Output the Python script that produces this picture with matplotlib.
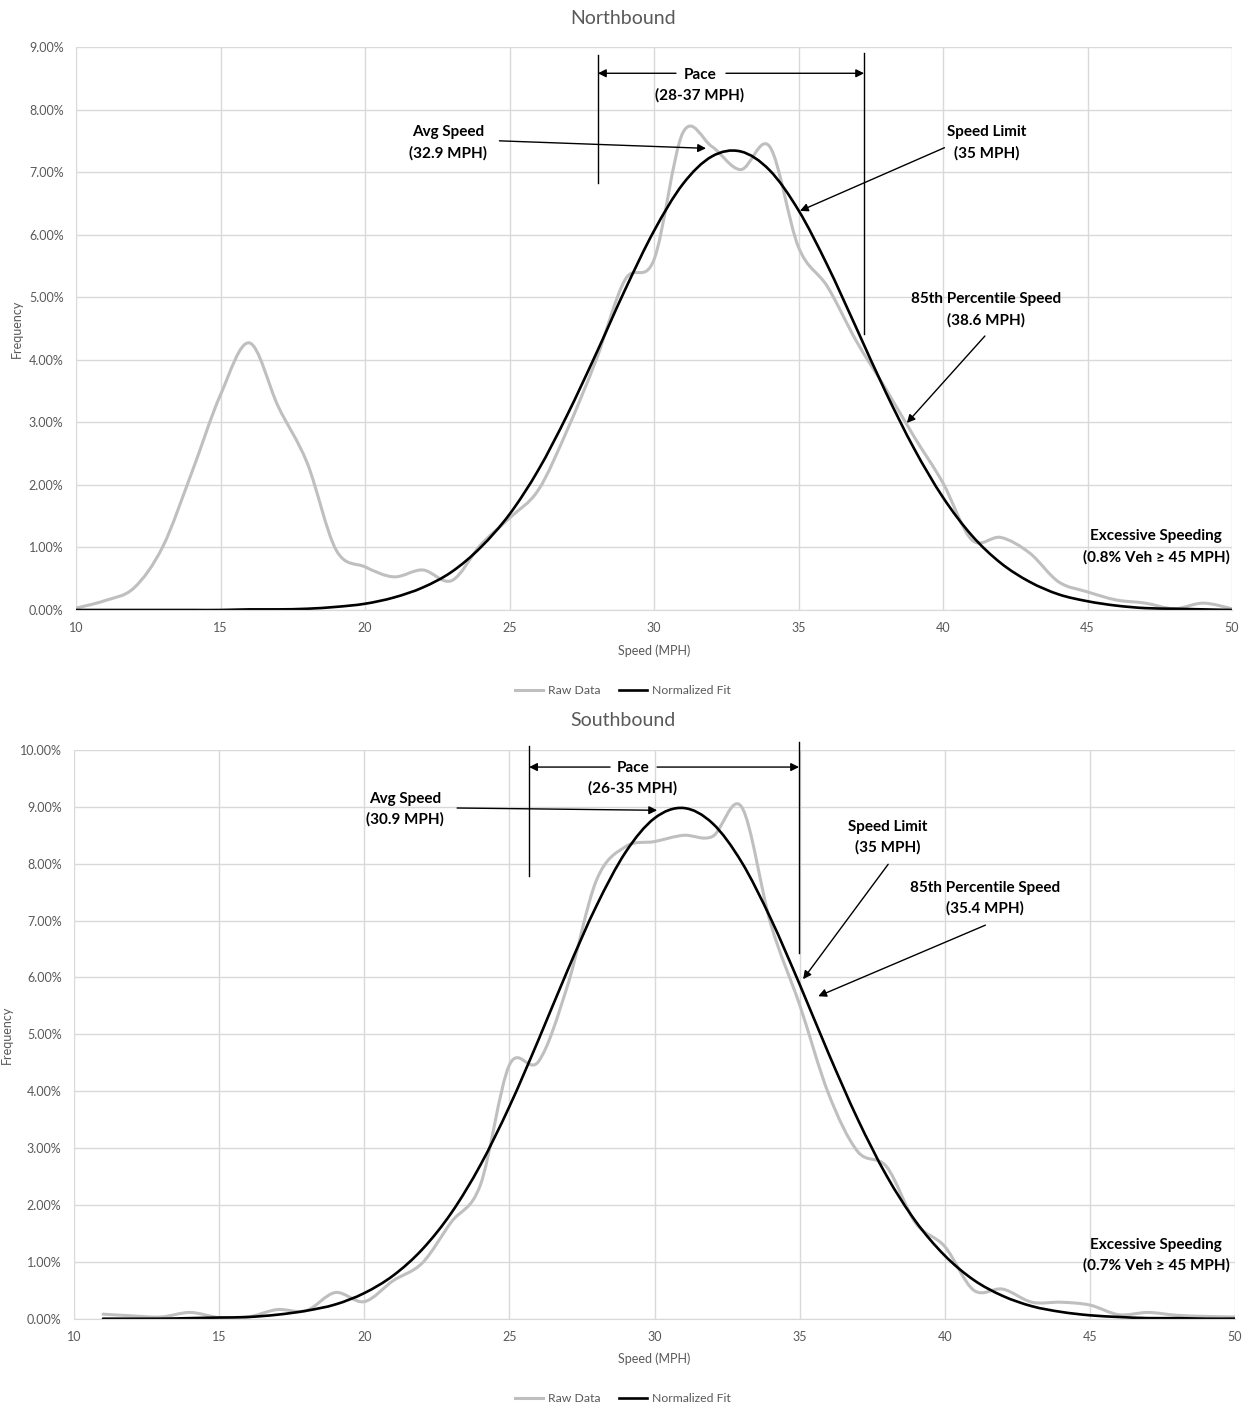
import matplotlib
matplotlib.use("Agg")
import matplotlib.pyplot as plt
from matplotlib.path import Path
from matplotlib.patches import PathPatch
from matplotlib.lines import Line2D
from matplotlib.ticker import FuncFormatter

plt.rcParams['font.family'] = ['Lato', 'DejaVu Sans']

# Northbound data (percent of vehicles per 1 mph bin)
nb_speed = list(range(10, 51))
nb_raw = [0.03, 0.15, 0.35, 1.01, 2.19, 3.44, 4.27, 3.25, 2.35, 0.96,
          0.69, 0.53, 0.64, 0.47, 1.04, 1.47, 1.92, 2.88, 4.00, 5.28,
          5.60, 7.63, 7.41, 7.04, 7.41, 5.80, 5.17, 4.30, 3.55, 2.77,
          2.03, 1.12, 1.16, 0.91, 0.45, 0.29, 0.16, 0.11, 0.02, 0.11, 0.02]
nb_fit = [0.00, 0.00, 0.00, 0.00, 0.00, 0.00, 0.01, 0.01, 0.02, 0.05,
          0.10, 0.20, 0.36, 0.61, 1.00, 1.53, 2.24, 3.12, 4.10, 5.12,
          6.06, 6.81, 7.25, 7.33, 7.03, 6.39, 5.51, 4.51, 3.50, 2.58,
          1.80, 1.19, 0.75, 0.45, 0.25, 0.14, 0.07, 0.03, 0.02, 0.01, 0.00]

# Southbound data
sb_speed = list(range(11, 51))
sb_raw = [0.08, 0.05, 0.03, 0.11, 0.02, 0.03, 0.16, 0.14, 0.46, 0.30,
          0.67, 0.98, 1.70, 2.35, 4.46, 4.52, 5.85, 7.71, 8.30, 8.39,
          8.50, 8.48, 9.00, 6.95, 5.52, 3.95, 2.94, 2.67, 1.68, 1.27,
          0.50, 0.52, 0.29, 0.29, 0.24, 0.07, 0.11, 0.06, 0.04, 0.03]
sb_fit = [0.00, 0.00, 0.00, 0.01, 0.02, 0.03, 0.07, 0.14, 0.25, 0.45,
          0.76, 1.22, 1.86, 2.70, 3.73, 4.90, 6.12, 7.26, 8.20, 8.80,
          8.98, 8.71, 8.03, 7.04, 5.88, 4.66, 3.51, 2.51, 1.71, 1.11,
          0.68, 0.40, 0.22, 0.12, 0.06, 0.03, 0.01, 0.01, 0.00, 0.00]

RAW_COLOR = '#BFBFBF'
GRID_COLOR = '#D9D9D9'
TEXT_GRAY = '#595959'


def smooth_path(x, y):
    """Excel-style smoothed line: cubic Bezier segments through the points."""
    n = len(x)
    verts = [(x[0], y[0])]
    codes = [Path.MOVETO]
    for i in range(n - 1):
        p0 = i - 1 if i > 0 else i
        p3 = i + 2 if i + 2 < n else i + 1
        c1 = (x[i] + (x[i + 1] - x[p0]) / 6, y[i] + (y[i + 1] - y[p0]) / 6)
        c2 = (x[i + 1] - (x[p3] - x[i]) / 6, y[i + 1] - (y[p3] - y[i]) / 6)
        verts += [c1, c2, (x[i + 1], y[i + 1])]
        codes += [Path.CURVE4] * 3
    return Path(verts, codes)


def arrow(ax, start, end):
    ax.annotate('', xy=end, xytext=start,
                arrowprops=dict(arrowstyle='-|>', color='black', lw=1,
                                mutation_scale=12, shrinkA=0, shrinkB=0),
                annotation_clip=False)


def note(ax, x, y, s):
    ax.text(x, y, s, ha='center', va='center', fontsize=11,
            fontweight='bold', color='black', linespacing=1.55)


def setup(ax, ymax, ylab_x):
    ax.set_xlim(10, 50)
    ax.set_ylim(0, ymax)
    ax.set_xticks(range(10, 51, 5))
    ax.set_yticks(range(0, ymax + 1))
    ax.yaxis.set_major_formatter(FuncFormatter(lambda v, p: f'{v:.2f}%'))
    ax.grid(True, color=GRID_COLOR, lw=1)
    ax.set_axisbelow(True)
    for s in ['top', 'right', 'left']:
        ax.spines[s].set_visible(False)
    ax.spines['bottom'].set_color(GRID_COLOR)
    ax.tick_params(length=0, labelsize=9, colors=TEXT_GRAY, pad=9)
    ax.set_xlabel('Speed (MPH)', fontsize=9, color=TEXT_GRAY, labelpad=7)
    ax.set_ylabel('Frequency', fontsize=9, color=TEXT_GRAY, va='center')
    ax.yaxis.set_label_coords(ylab_x, 0.5)


def draw_curves(ax, x, raw, fit):
    ax.add_patch(PathPatch(smooth_path(x, raw), fill=False, ec=RAW_COLOR,
                           lw=2.2, capstyle='round', joinstyle='round'))
    ax.add_patch(PathPatch(smooth_path(x, fit), fill=False, ec='black',
                           lw=1.9, capstyle='round', joinstyle='round'))


fig = plt.figure(figsize=(12.46, 14.08), dpi=100)

# ---------------- Northbound ----------------
ax1 = fig.add_axes([76 / 1246, 1 - 610 / 1408, 1156 / 1246, 563 / 1408])
setup(ax1, 9, -0.051)
draw_curves(ax1, nb_speed, nb_raw, nb_fit)

ax1.plot([28.06, 28.06], [6.83, 8.88], color='black', lw=1, clip_on=False)
ax1.plot([37.27, 37.27], [4.42, 8.91], color='black', lw=1, clip_on=False)
arrow(ax1, (30.76, 8.58), (28.06, 8.58))
arrow(ax1, (32.49, 8.58), (37.27, 8.58))
note(ax1, 31.59, 8.39, 'Pace\n(28-37 MPH)')
note(ax1, 22.87, 7.47, 'Avg Speed\n(32.9 MPH)')
arrow(ax1, (24.65, 7.50), (31.8, 7.38))
note(ax1, 41.52, 7.47, 'Speed Limit\n(35 MPH)')
arrow(ax1, (40.05, 7.39), (35.05, 6.38))
note(ax1, 41.49, 4.80, '85th Percentile Speed\n(38.6 MPH)')
arrow(ax1, (41.45, 4.38), (38.75, 2.99))
note(ax1, 47.37, 1.01, 'Excessive Speeding\n(0.8% Veh \u2265 45 MPH)')

fig.text(0.5, 1 - 18 / 1408, 'Northbound', ha='center', va='center',
         fontsize=14, color=TEXT_GRAY)

# ---------------- Southbound ----------------
ax2 = fig.add_axes([74 / 1246, 1 - 1318.7 / 1408, 1161 / 1246, 568.7 / 1408])
setup(ax2, 10, -0.0577)
draw_curves(ax2, sb_speed, sb_raw, sb_fit)

ax2.plot([25.68, 25.68], [7.78, 10.07], color='black', lw=1, clip_on=False)
ax2.plot([34.98, 34.98], [6.43, 10.14], color='black', lw=1, clip_on=False)
arrow(ax2, (28.47, 9.70), (25.68, 9.70))
arrow(ax2, (30.09, 9.70), (34.98, 9.70))
note(ax2, 29.26, 9.50, 'Pace\n(26-35 MPH)')
note(ax2, 21.41, 8.96, 'Avg Speed\n(30.9 MPH)')
arrow(ax2, (23.2, 8.98), (30.09, 8.94))
note(ax2, 38.02, 8.46, 'Speed Limit\n(35 MPH)')
arrow(ax2, (38.05, 7.99), (35.12, 5.97))
note(ax2, 41.39, 7.39, '85th Percentile Speed\n(35.4 MPH)')
arrow(ax2, (41.4, 6.92), (35.64, 5.67))
note(ax2, 47.28, 1.12, 'Excessive Speeding\n(0.7% Veh \u2265 45 MPH)')

fig.text(0.5, 1 - 721 / 1408, 'Southbound', ha='center', va='center',
         fontsize=14, color=TEXT_GRAY)

# legends
handles = [Line2D([], [], color=RAW_COLOR, lw=2.2, label='Raw Data'),
           Line2D([], [], color='black', lw=1.9, label='Normalized Fit')]
for ypix in (691, 1399):
    fig.legend(handles=handles, loc='center', ncol=2, frameon=False,
               bbox_to_anchor=(0.5, 1 - ypix / 1408), fontsize=8.8,
               labelcolor=TEXT_GRAY, handlelength=2.3, handletextpad=0.4,
               columnspacing=1.5)

fig.savefig('out.png', dpi=100)
